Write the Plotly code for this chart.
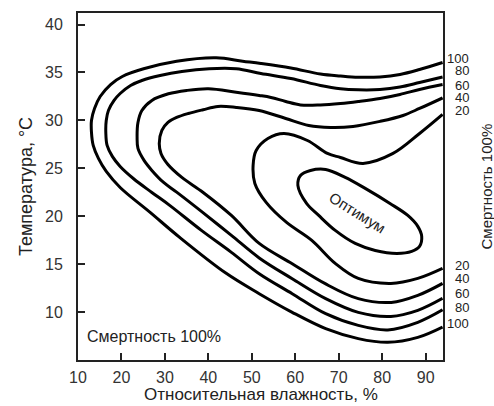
import plotly.graph_objects as go

# ---- data (relative humidity %, temperature °C) ----
levels = ["100", "80", "60", "40", "20"]

rh_100 = [93.9, 88.6, 84.1, 79.5, 74.5, 70.4, 65.8, 59.0, 52.1, 47.9, 41.8, 32.7, 25.1, 20.2, 17.5, 15.1,
          13.8, 13.1, 13.1, 13.5, 14.7, 16.5, 19.7, 26.6, 33.4, 44.1, 51.7, 59.2, 67.0, 74.5, 81.3, 88.2, 93.9]
t_100 = [36.04, 35.31, 34.79, 34.53, 34.5, 34.63, 34.84, 35.46, 35.93, 36.17, 36.53, 36.17, 35.38, 34.58,
         33.74, 32.49, 31.24, 29.99, 28.74, 27.38, 26.03, 24.67, 23.0, 20.4, 17.79, 14.04, 11.92, 10.0,
         8.27, 7.23, 6.84, 7.36, 8.44]

rh_80 = [93.9, 88.6, 84.1, 79.5, 74.5, 70.4, 65.8, 59.0, 52.1, 46.4, 40.2, 33.9, 28.9, 24.7, 22.1, 19.7,
         18.3, 17.0, 16.5, 16.4, 16.7, 17.9, 19.7, 22.8, 27.0, 31.1, 38.4, 45.3, 51.7, 59.3, 67.0, 74.5,
         81.3, 88.2, 93.9]
t_80 = [34.53, 33.95, 33.48, 33.22, 33.19, 33.3, 33.64, 34.37, 34.89, 35.38, 35.38, 35.1, 34.68, 34.16,
        33.64, 32.8, 32.08, 31.03, 29.99, 28.74, 27.38, 26.24, 25.19, 23.91, 22.48, 21.13, 18.52, 16.23,
        14.0, 11.92, 9.83, 8.61, 8.14, 8.93, 10.23]

rh_60 = [93.9, 88.6, 84.1, 79.5, 74.5, 70.4, 65.8, 61.2, 57.8, 54.4, 51.7, 46.4, 40.0, 35.0, 30.8, 27.0,
         24.7, 23.8, 23.6, 23.8, 25.2, 27.0, 29.7, 32.7, 38.4, 45.3, 51.7, 59.3, 67.0, 74.5, 82.0, 88.2, 93.9]
t_60 = [33.74, 33.22, 32.7, 32.28, 31.97, 31.76, 31.61, 31.61, 31.97, 32.39, 32.6, 32.94, 33.3, 33.12,
        32.77, 32.08, 31.03, 29.78, 28.25, 27.07, 25.82, 24.78, 23.52, 22.51, 20.5, 18.0, 15.65, 13.48,
        11.4, 9.97, 9.55, 10.18, 11.43]

rh_40 = [93.9, 88.6, 84.8, 79.5, 73.3, 68.1, 63.1, 57.8, 51.7, 46.4, 42.2, 38.8, 35.4, 32.7, 30.7, 29.3,
         28.7, 29.1, 30.7, 33.9, 38.8, 45.3, 51.7, 59.3, 66.9, 74.5, 82.1, 88.2, 93.9]
t_40 = [32.34, 31.24, 30.51, 29.89, 29.36, 29.26, 29.47, 30.2, 31.03, 31.35, 31.45, 31.11, 30.72, 30.3,
        29.78, 28.95, 27.59, 26.55, 25.4, 24.05, 22.48, 20.08, 17.16, 15.05, 12.96, 11.4, 11.01, 11.74, 12.99]

rh_20 = [93.9, 88.6, 82.5, 75.6, 70.4, 67.4, 62.8, 57.4, 53.7, 51.0, 50.3, 50.7, 53.3, 58.0, 63.8, 69.2,
         74.5, 82.0, 88.2, 93.9]
t_20 = [30.62, 28.63, 26.55, 25.51, 26.13, 26.55, 27.9, 28.63, 28.11, 26.86, 25.3, 23.42, 21.44, 19.35,
        17.48, 15.08, 13.51, 12.99, 13.51, 14.56]

rh_opt = [76.1, 81.8, 85.9, 88.2, 89.1, 88.6, 86.8, 83.4, 78.4, 73.8, 69.2, 65.4, 62.6, 60.6, 61.2,
          63.5, 67.0, 71.5, 76.1]
t_opt = [22.9, 21.33, 20.08, 18.94, 17.89, 16.85, 16.33, 16.12, 16.43, 17.16, 18.52, 20.08, 21.33, 23.21,
         24.25, 24.77, 24.88, 24.05, 22.9]

x_ticks = [10, 20, 30, 40, 50, 60, 70, 80, 90]
y_ticks = [10, 15, 20, 25, 30, 35, 40]

curves = [(rh_100, t_100), (rh_80, t_80), (rh_60, t_60), (rh_40, t_40), (rh_20, t_20)]

FONT = "Liberation Sans, Arial, sans-serif"
TXT = "#222222"

fig = go.Figure()
for rh, t in curves + [(rh_opt, t_opt)]:
    fig.add_trace(go.Scatter(x=rh, y=t, mode="lines",
                             line=dict(color="black", width=3, shape="spline", smoothing=1.0),
                             hoverinfo="skip", showlegend=False))

annotations = []
top_shift = [4, 6, -1, 0, 4]
bot_shift = [4, 2.5, 5, 5, 3]
for (rh, t), lab, ts, bs in zip(curves, levels, top_shift, bot_shift):
    annotations.append(dict(x=1, xref="paper", y=t[0], yref="y", text=lab, showarrow=False,
                            xanchor="right", yanchor="middle", xshift=27, yshift=ts, borderpad=0,
                            font=dict(size=13, color=TXT, family=FONT)))
    annotations.append(dict(x=1, xref="paper", y=t[-1], yref="y", text=lab, showarrow=False,
                            xanchor="right", yanchor="middle", xshift=27, yshift=bs, borderpad=0,
                            font=dict(size=13, color=TXT, family=FONT)))

annotations.append(dict(x=74.3, y=20.4, xref="x", yref="y", text="Оптимум", showarrow=False,
                        textangle=32, font=dict(size=15, color=TXT, family=FONT)))
annotations.append(dict(x=11.5, y=7.4, xref="x", yref="y", text="Смертность 100%", showarrow=False,
                        xanchor="left", yanchor="middle", font=dict(size=16, color=TXT, family=FONT)))
annotations.append(dict(x=1, xref="paper", y=0.5, yref="paper", text="Смертность 100%", showarrow=False,
                        xanchor="center", yanchor="middle", xshift=43, textangle=-90, borderpad=0,
                        font=dict(size=15, color=TXT, family=FONT)))
# x-axis title placed as an annotation so it stays fully inside the picture
annotations.append(dict(x=0.5, y=0, xref="paper", yref="paper", text="Относительная влажность, %",
                        showarrow=False, xanchor="center", yanchor="middle", yshift=-34, borderpad=0,
                        font=dict(size=17, color=TXT, family=FONT)))

axis_common = dict(showgrid=False, zeroline=False, showline=True, linewidth=2, linecolor="#222222",
                   mirror=True, ticks="inside", ticklen=7, tickwidth=2, tickcolor="#222222",
                   tickfont=dict(size=16, color="#333333", family=FONT))

fig.update_layout(
    width=494, height=406,
    margin=dict(l=78, r=51, t=13, b=46, autoexpand=False),
    paper_bgcolor="white", plot_bgcolor="white",
    xaxis=dict(range=[10, 94], tickvals=x_ticks, ticklabelstandoff=2, **axis_common),
    yaxis=dict(range=[5, 41.2], tickvals=y_ticks, ticklabelstandoff=10,
               title=dict(text="Температура, °C", standoff=8,
                          font=dict(size=18, color=TXT, family=FONT)),
               **axis_common),
    annotations=annotations,
)

fig.write_html("out.html", config={"displayModeBar": False},
               post_script="document.body.style.margin='0';")
